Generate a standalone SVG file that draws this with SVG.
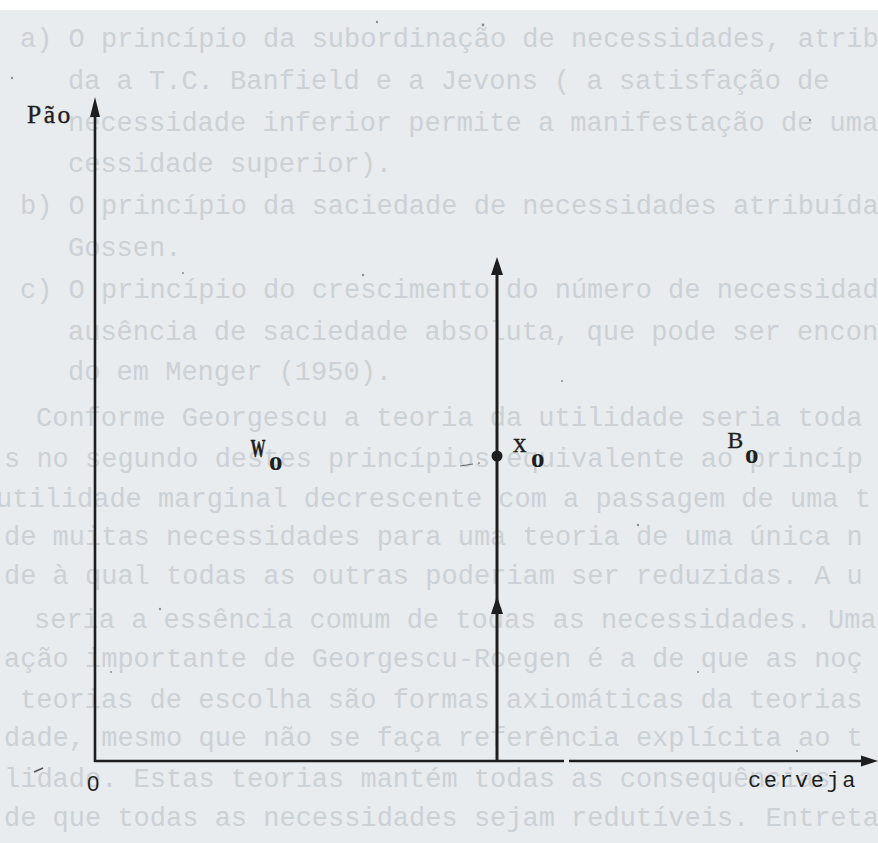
<svg xmlns="http://www.w3.org/2000/svg" width="878" height="843" viewBox="0 0 878 843">
  <style>
    .bg { font-family: "Liberation Mono", "DejaVu Sans Mono", monospace; font-size: 27px; fill: #ccd1d6; }
    .lbl { font-family: "Liberation Serif", "DejaVu Serif", serif; fill: #1e1e1e; stroke: #1e1e1e; stroke-width: 0.4; }
    .sub { font-family: "Liberation Serif", "DejaVu Serif", serif; font-size: 27px; font-weight: bold; fill: #1e1e1e; }
    .ax { stroke: #1e1e1e; stroke-width: 2.6; fill: none; }
    .head { fill: #1e1e1e; }
    .speck { fill: #8a8e92; }
  </style>
  <rect x="0" y="0" width="878" height="843" fill="#ffffff"/>
  <rect x="0" y="10" width="878" height="833" fill="#e8ecef"/>

  <g id="background-text" class="bg">
    <text x="20" y="47">a) O princípio da subordinação de necessidades, atribuí</text>
    <text x="68" y="89">da a T.C. Banfield e a Jevons ( a satisfação de</text>
    <text x="68" y="131">necessidade inferior permite a manifestação de uma ne</text>
    <text x="68" y="172">cessidade superior).</text>
    <text x="20" y="214">b) O princípio da saciedade de necessidades atribuída</text>
    <text x="68" y="256">Gossen.</text>
    <text x="20" y="298">c) O princípio do crescimento do número de necessidades</text>
    <text x="68" y="340">ausência de saciedade absoluta, que pode ser encon</text>
    <text x="68" y="380">do em Menger (1950).</text>
    <text x="36" y="426">Conforme Georgescu a teoria da utilidade seria toda b</text>
    <text x="4" y="467">s no segundo destes princípios equivalente ao princíp</text>
    <text x="-4" y="507">utilidade marginal decrescente com a passagem de uma t</text>
    <text x="4" y="545">de muitas necessidades para uma teoria de uma única n</text>
    <text x="4" y="584">de à qual todas as outras poderiam ser reduzidas. A u</text>
    <text x="34" y="628">seria a essência comum de todas as necessidades. Uma</text>
    <text x="4" y="667">ação importante de Georgescu-Roegen é a de que as noç</text>
    <text x="20" y="708">teorias de escolha são formas axiomáticas da teorias d</text>
    <text x="4" y="746">dade, mesmo que não se faça referência explícita ao t</text>
    <text x="4" y="787">lidade. Estas teorias mantém todas as consequências</text>
    <text x="4" y="826">de que todas as necessidades sejam redutíveis. Entreta</text>
  </g>

  <g id="connectors">
    <g id="y-axis">
      <path class="ax" d="M95,762 V112"/>
      <polygon class="head" points="95,97 90,117 100,117"/>
    </g>
    <g id="x-axis">
      <path class="ax" d="M94,761 H564 M569,761 H864"/>
      <polygon class="head" points="878,761 861,755.5 861,766.5"/>
    </g>
    <g id="vertical-x0">
      <path class="ax" style="stroke-width:3" d="M497,761 V272"/>
      <polygon class="head" points="497,257 491,275 503,275"/>
      <polygon class="head" points="497,596 491,614 503,614"/>
    </g>
  </g>

  <g id="point-x0">
    <circle cx="497" cy="456" r="5.5" fill="#1e1e1e"/>
    <text class="lbl" x="513" y="452" font-size="27">x</text>
    <text class="sub" x="531" y="467">o</text>
  </g>

  <g id="label-pao">
    <text class="lbl" x="27" y="123" font-size="25.5" letter-spacing="2.5">Pão</text>
  </g>
  <g id="label-w0">
    <text class="lbl" x="250.5" y="457" font-size="26" font-weight="bold" textLength="15" lengthAdjust="spacingAndGlyphs">W</text>
    <text class="sub" x="269" y="470">o</text>
  </g>
  <g id="label-b0">
    <text class="lbl" x="727.5" y="448" font-size="23.5">B</text>
    <text class="sub" x="745" y="463">o</text>
  </g>
  <g id="label-origin">
    <text x="87" y="791" font-family="Liberation Sans, Arial, sans-serif" font-size="22" fill="#1e1e1e">0</text>
  </g>
  <g id="label-cerveja">
    <text x="748" y="787" font-family="Liberation Mono, monospace" font-size="22" letter-spacing="2.5" fill="#1e1e1e">cerveja</text>
  </g>

  <g id="marks">
    <path d="M460,466 L473,464" stroke="#6a6e72" stroke-width="1.2"/>
    <circle class="speck" cx="479" cy="463" r="1"/>
    <path d="M34,772 L43,768" stroke="#555" stroke-width="1.6"/>
    <circle class="speck" cx="12" cy="78" r="1.2"/>
    <circle class="speck" cx="377" cy="22" r="1.2"/>
    <circle class="speck" cx="483" cy="25" r="1.4"/>
    <circle class="speck" cx="810" cy="120" r="1"/>
    <circle class="speck" cx="183" cy="273" r="1"/>
    <circle class="speck" cx="363" cy="275" r="1.2"/>
    <circle class="speck" cx="562" cy="381" r="1"/>
    <circle class="speck" cx="638" cy="525" r="1.2"/>
    <circle class="speck" cx="160" cy="609" r="1.2"/>
    <circle class="speck" cx="111" cy="672" r="1"/>
    <circle class="speck" cx="698" cy="672" r="1"/>
    <circle class="speck" cx="797" cy="751" r="1"/>
  </g>
</svg>
